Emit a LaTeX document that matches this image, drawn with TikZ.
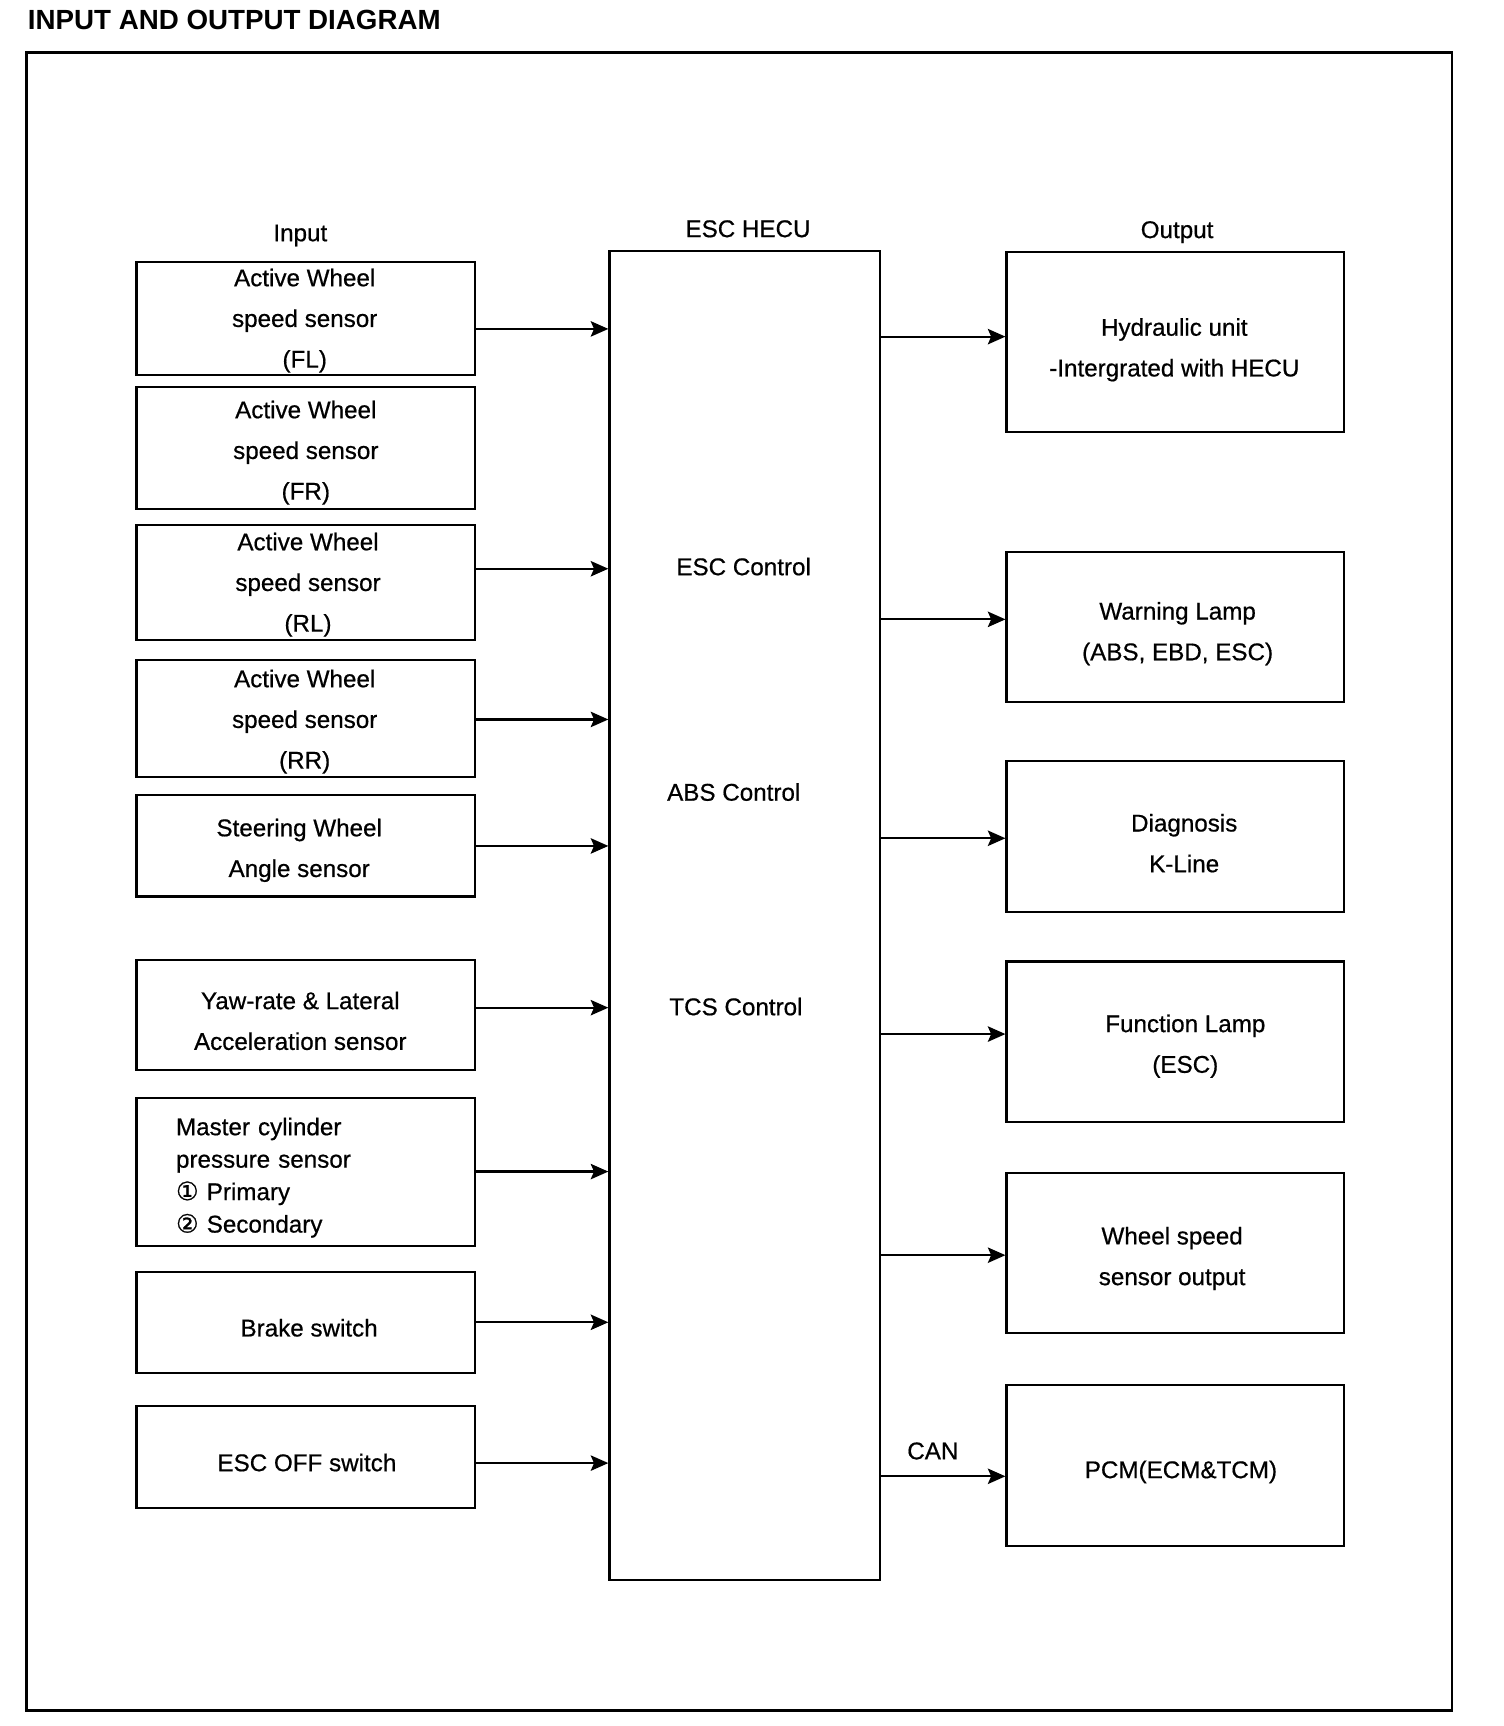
\documentclass[tikz,border=0pt]{standalone}
\usepackage{fontspec}
\setmainfont{Liberation Sans}
\newfontfamily\bodyfont{Liberation Sans}[FakeBold=0.6]
\newfontfamily\dejavu{DejaVu Sans}[FakeBold=0.8]
\usetikzlibrary{arrows.meta}
\begin{document}
\begin{tikzpicture}[x=0.5pt,y=-0.5pt,
  txt/.style={inner sep=0pt, align=center, font=\bodyfont\fontsize{11pt}{18.5pt}\selectfont},
  inbox/.style={draw, line width=1pt, inner sep=0pt, minimum width=154pt},
  outbox/.style={draw, line width=1pt, inner sep=0pt, minimum width=153.5pt},
  arr/.style={line width=1pt, -{Stealth[length=8pt,width=7pt,inset=1.5pt]}}]
\useasboundingbox (0,0) rectangle (1367,1569);
% title and frame
\node[inner sep=0pt, anchor=west, font=\bfseries\fontsize{12.6pt}{15pt}\selectfont] (title) at (25,18) {INPUT AND OUTPUT DIAGRAM};
\draw[line width=1.2pt] (24,48) rectangle (1320,1555);
% headings
\node[txt] (hin) at (273,214) {Input};
\node[txt] (hecul) at (680,208) {ESC HECU};
\node[txt] (hout) at (1070,211) {Output};
% HECU
\node[draw, line width=1pt, minimum width=123pt, minimum height=604pt, inner sep=0pt] (hecu) at (677,832) {};
\node[txt] (escc) at (676,515) {ESC Control};
\node[txt] (absc) at (667,720) {ABS Control};
\node[txt] (tcsc) at (669,915) {TCS Control};
% inputs
\node[inbox, minimum height=51.5pt] (fl) at (278,289.5) {};
\node[txt] (flt) at ([shift={(-1,2)}]fl.center) {Active Wheel\\speed sensor\\(FL)};
\node[inbox, minimum height=55.5pt] (fr) at (278,407.5) {};
\node[txt] (frt) at ([shift={(0,4)}]fr.center) {Active Wheel\\speed sensor\\(FR)};
\node[inbox, minimum height=52.5pt] (rl) at (278,529.5) {};
\node[txt] (rlt) at ([shift={(2,2)}]rl.center) {Active Wheel\\speed sensor\\(RL)};
\node[inbox, minimum height=53pt] (rr) at (278,653) {};
\node[txt] (rrt) at ([shift={(-1,3)}]rr.center) {Active Wheel\\speed sensor\\(RR)};
\node[inbox, minimum height=46pt] (sw) at (278,769) {};
\node[txt] (swt) at ([shift={(-6,4)}]sw.center) {Steering Wheel\\Angle sensor};
\node[inbox, minimum height=50pt] (yaw) at (278,923) {};
\node[txt] (yawt) at ([shift={(-5,5)}]yaw.center) {Yaw-rate \& Lateral\\Acceleration sensor};
\node[inbox, minimum height=67.5pt] (mc) at (278,1065.5) {};
\node[txt, align=left, text width=118pt, font=\bodyfont\fontsize{11pt}{14.75pt}\selectfont] (mct) at ([shift={(0,5)}]mc.center) {Master cylinder\\pressure sensor\\{\dejavu\fontsize{11.5pt}{14.75pt}\selectfont ①} Primary\\{\dejavu\fontsize{11.5pt}{14.75pt}\selectfont ②} Secondary};
\node[inbox, minimum height=46pt] (bs) at (278,1202) {};
\node[txt] (bst) at ([shift={(3,5)}]bs.center) {Brake switch};
\node[inbox, minimum height=46.5pt] (eo) at (278,1324.5) {};
\node[txt] (eot) at ([shift={(1,5)}]eo.center) {ESC OFF switch};
% outputs
\node[outbox, minimum height=82pt] (hyd) at (1068.5,311) {};
\node[txt] (hydt) at ([shift={(-1,7)}]hyd.center) {Hydraulic unit\\-Intergrated with HECU};
\node[outbox, minimum height=68pt] (wl) at (1068.5,570) {};
\node[txt] (wlt) at ([shift={(2,6)}]wl.center) {Warning Lamp\\(ABS, EBD, ESC)};
\node[outbox, minimum height=68.5pt] (diag) at (1068.5,760.5) {};
\node[txt] (diagt) at ([shift={(8,6)}]diag.center) {Diagnosis\\K-Line};
\node[outbox, minimum height=73pt] (fn) at (1068.5,947) {};
\node[txt] (fnt) at ([shift={(9,4)}]fn.center) {Function Lamp\\(ESC)};
\node[outbox, minimum height=73pt] (ws) at (1068.5,1139) {};
\node[txt] (wst) at ([shift={(-3,5)}]ws.center) {Wheel speed\\sensor output};
\node[outbox, minimum height=73pt] (pcm) at (1068.5,1332) {};
\node[txt] (pcmt) at ([shift={(5,6)}]pcm.center) {PCM(ECM\&TCM)};
\node[txt] (can) at (848,1319) {CAN};
% arrow heights
\coordinate (i1) at (0,299);
\coordinate (i3) at (0,517);
\coordinate (i4) at (0,654);
\coordinate (i5) at (0,769);
\coordinate (i6) at (0,916);
\coordinate (i7) at (0,1065);
\coordinate (i8) at (0,1202);
\coordinate (i9) at (0,1330);
\coordinate (o1) at (0,306);
\coordinate (o2) at (0,563);
\coordinate (o3) at (0,762);
\coordinate (o4) at (0,940);
\coordinate (o5) at (0,1141);
\coordinate (o6) at (0,1342);
\draw[arr] (fl.east |- i1) -- (hecu.west |- i1);
\draw[arr] (rl.east |- i3) -- (hecu.west |- i3);
\draw[arr] (rr.east |- i4) -- (hecu.west |- i4);
\draw[arr] (sw.east |- i5) -- (hecu.west |- i5);
\draw[arr] (yaw.east |- i6) -- (hecu.west |- i6);
\draw[arr] (mc.east |- i7) -- (hecu.west |- i7);
\draw[arr] (bs.east |- i8) -- (hecu.west |- i8);
\draw[arr] (eo.east |- i9) -- (hecu.west |- i9);
\draw[arr] (hecu.east |- o1) -- (hyd.west |- o1);
\draw[arr] (hecu.east |- o2) -- (wl.west |- o2);
\draw[arr] (hecu.east |- o3) -- (diag.west |- o3);
\draw[arr] (hecu.east |- o4) -- (fn.west |- o4);
\draw[arr] (hecu.east |- o5) -- (ws.west |- o5);
\draw[arr] (hecu.east |- o6) -- (pcm.west |- o6);
\end{tikzpicture}
\end{document}
